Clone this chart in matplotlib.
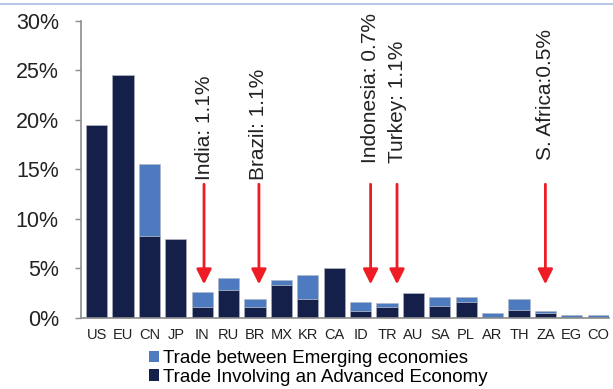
import matplotlib
matplotlib.use("Agg")
import matplotlib.pyplot as plt
from matplotlib.lines import Line2D
from matplotlib.patches import Patch
import numpy as np

# Share of world trade by economy (%)
categories = ['US', 'EU', 'CN', 'JP', 'IN', 'RU', 'BR', 'MX', 'KR', 'CA',
              'ID', 'TR', 'AU', 'SA', 'PL', 'AR', 'TH', 'ZA', 'EG', 'CO']
advanced = [19.5, 24.5, 8.3, 8.0, 1.1, 2.8, 1.1, 3.3, 1.9, 5.0,
            0.7, 1.1, 2.5, 1.2, 1.6, 0.0, 0.85, 0.5, 0.0, 0.0]
emerging = [0.0, 0.0, 7.2, 0.0, 1.55, 1.25, 0.8, 0.55, 2.4, 0.0,
            0.9, 0.45, 0.0, 0.9, 0.55, 0.48, 1.1, 0.2, 0.28, 0.35]
yticks = [0, 5, 10, 15, 20, 25, 30]

# Callouts: text, category, horizontal nudge (in category units)
callout_text = ['India: 1.1%', 'Brazil: 1.1%', 'Indonesia: 0.7%', 'Turkey: 1.1%', 'S. Africa:0.5%']
callout_cat = ['IN', 'BR', 'ID', 'TR', 'ZA']
callout_nudge = [0.07, 0.15, 0.38, 0.38, 0.0]
callout_text_base = [13.9, 13.9, 15.6, 15.6, 15.9]

DARK = '#141f4a'
LIGHT = '#4e7bc0'
RED = '#ee1c24'
GREY = '#8c8c8c'

fig = plt.figure(figsize=(6.13, 3.89), dpi=100)
ax = fig.add_axes([81 / 613, 71 / 389, 528 / 613, 297.3 / 389])

x = np.arange(len(categories))
ax.bar(x, advanced, width=0.8, color=DARK, edgecolor='#b0b4c0', linewidth=0.4,
       label='Trade Involving an Advanced Economy', zorder=2)
ax.bar(x, emerging, width=0.8, bottom=advanced, color=LIGHT, edgecolor='#b0b4c0',
       linewidth=0.4, label='Trade between Emerging economies', zorder=2)

ax.set_xlim(-0.59, 19.41)
ax.set_ylim(0, 30)
ax.set_yticks(yticks)
ax.set_yticklabels([f'{v}%' for v in yticks], fontsize=15.5, family='Liberation Sans',
                   color='#222222')
ax.set_xticks(x)
ax.set_xticklabels(categories, fontsize=10.5, family=['Liberation Sans Narrow', 'Liberation Sans'],
                   color='#222222')
ax.tick_params(axis='x', length=0, pad=7)
ax.tick_params(axis='y', length=4, width=1, color=GREY, pad=12)

for side in ('top', 'right'):
    ax.spines[side].set_visible(False)
for side in ('left', 'bottom'):
    ax.spines[side].set_color(GREY)
    ax.spines[side].set_linewidth(1.2)

# Red arrows with rotated labels
for txt, cat, dx, tb in zip(callout_text, callout_cat, callout_nudge, callout_text_base):
    xi = categories.index(cat) + dx
    ax.annotate('', xy=(xi, 3.4), xytext=(xi, 13.5),
                arrowprops=dict(arrowstyle='-|>,head_length=0.9,head_width=0.45',
                                color=RED, lw=2, shrinkA=0, shrinkB=0), zorder=3)
    ax.text(xi, tb, txt, rotation=90, ha='center', va='bottom', fontsize=15,
            family='Liberation Sans', color='#222222', zorder=3)

# Legend below the axis
handles = [Patch(facecolor=LIGHT, edgecolor='none'), Patch(facecolor=DARK, edgecolor='none')]
labels = ['Trade between Emerging economies', 'Trade Involving an Advanced Economy']
fig.legend(handles, labels, loc='upper left', bbox_to_anchor=(149 / 613, 1 - 350 / 389),
           frameon=False, prop={'family': 'Liberation Sans', 'size': 13.5},
           handlelength=0.55, handleheight=0.55, handletextpad=0.2, labelspacing=0.08,
           borderaxespad=0, borderpad=0)

# Thin rule along the top edge
fig.add_artist(Line2D([0, 1], [1 - 4 / 389, 1 - 4 / 389], transform=fig.transFigure,
                      color='#a9bde3', lw=1.2))

fig.savefig('out.png', dpi=100)
